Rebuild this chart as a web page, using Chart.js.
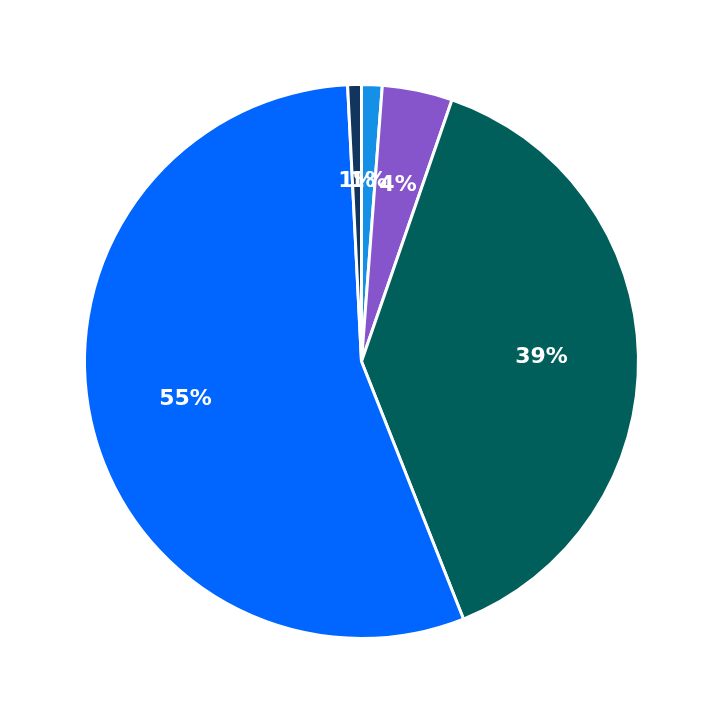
<!DOCTYPE html>
<html>
<head>
<meta charset="utf-8">
<script src="https://cdn.jsdelivr.net/npm/chart.js@4"></script>
<style>
  html, body { margin: 0; padding: 0; background: #ffffff; }
  #wrap { width: 723px; height: 723px; }
</style>
</head>
<body>
<div id="wrap"><canvas id="pieChart"></canvas></div>
<script>
// Slice data, clockwise from 12 o'clock
const categories = ['A', 'B', 'C', 'D', 'E'];
const values = [1.2, 4.1, 38.7, 55.2, 0.8];
const colors = ['#1490e6', '#8655cc', '#005f5b', '#0066ff', '#12355e'];

// Draw the percentage labels inside each slice
const pctLabels = {
    id: 'pctLabels',
    afterDatasetsDraw(chart) {
        const ctx = chart.ctx;
        const meta = chart.getDatasetMeta(0);
        const total = values.reduce((a, b) => a + b, 0);
        ctx.save();
        ctx.fillStyle = '#ffffff';
        ctx.font = "bold 22px 'DejaVu Sans', sans-serif";
        ctx.textAlign = 'center';
        ctx.textBaseline = 'middle';
        meta.data.forEach((arc, i) => {
            const p = arc.getProps(['x', 'y', 'startAngle', 'endAngle', 'outerRadius'], true);
            const mid = (p.startAngle + p.endAngle) / 2;
            const r = p.outerRadius * 0.65;
            const pct = Math.round(values[i] / total * 100) + '%';
            ctx.fillText(pct, p.x + Math.cos(mid) * r, p.y + Math.sin(mid) * r);
        });
        ctx.restore();
    }
};

new Chart(document.getElementById('pieChart'), {
    type: 'pie',
    data: {
        labels: categories,
        datasets: [{
            data: values,
            backgroundColor: colors,
            borderColor: '#ffffff',
            borderWidth: 3
        }]
    },
    options: {
        responsive: true,
        maintainAspectRatio: false,
        animation: false,
        layout: { padding: 83 },
        plugins: {
            legend: { display: false },
            tooltip: { enabled: false }
        }
    },
    plugins: [pctLabels]
});
</script>
</body>
</html>
